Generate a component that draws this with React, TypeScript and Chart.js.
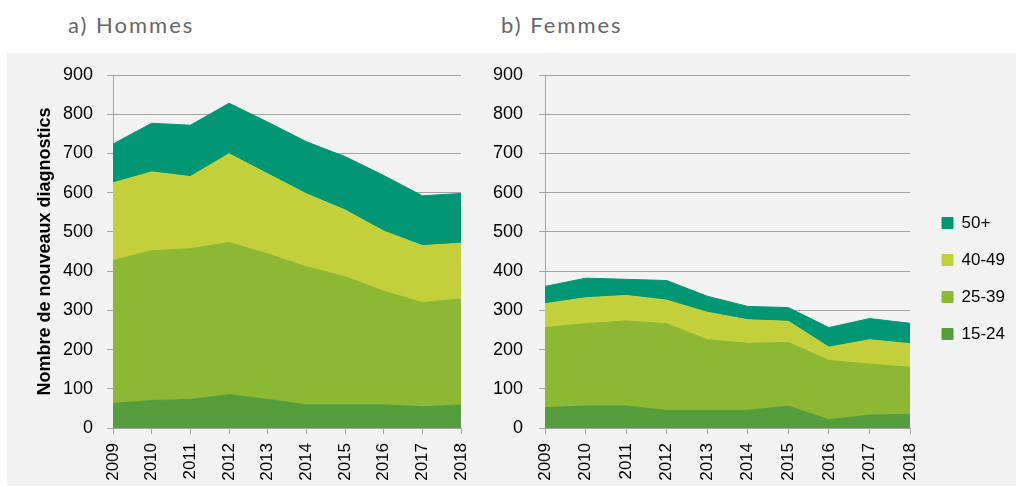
import React, { useEffect, useRef } from "react";
import { Chart, registerables } from "chart.js";

Chart.register(...registerables);

const years = ["2009", "2010", "2011", "2012", "2013", "2014", "2015", "2016", "2017", "2018"];
const seriesLabels = ["15-24", "25-39", "40-49", "50+"];
const seriesColors = ["#559D3A", "#8CB833", "#C3D03B", "#029774"];

// Hommes
const men1524 = [63, 70, 73, 85, 73, 59, 59, 59, 54, 59];
const men2539 = [364, 382, 384, 388, 371, 352, 327, 290, 266, 270];
const men4049 = [198, 201, 184, 226, 204, 186, 170, 153, 145, 142];
const men50p = [99, 124, 131, 129, 132, 133, 136, 142, 127, 127];

// Femmes
const women1524 = [52, 56, 56, 45, 45, 45, 56, 21, 33, 35];
const women2539 = [204, 210, 217, 221, 180, 171, 162, 151, 130, 120];
const women4049 = [61, 66, 65, 60, 70, 60, 54, 34, 62, 60];
const women50p = [44, 50, 41, 50, 41, 34, 35, 50, 54, 52];

const yTitle = "Nombre de nouveaux diagnostics";
const yMax = 900;
const yStep = 100;

const GRID = "#A3A3A3";
const FONT = "'Liberation Sans', Arial, sans-serif";

function buildDatasets(series: number[][]) {
  return series.map((values, i) => ({
    label: seriesLabels[i],
    data: values,
    backgroundColor: seriesColors[i],
    borderColor: seriesColors[i],
    borderWidth: 1,
    pointRadius: 0,
    pointHoverRadius: 0,
    tension: 0,
    fill: i === 0 ? "origin" : "-1",
  }));
}

const legendShift = {
  id: "legendShift",
  afterLayout(chart: any, _args: any, opts: any) {
    const lg = chart.legend;
    if (!lg || !opts || !opts.enabled) return;
    lg.left += opts.dx;
    lg.right += opts.dx;
    lg.top += opts.dy;
    lg.bottom += opts.dy;
  },
};

function buildOptions(cfg: { withTitle: boolean; withLegend: boolean; padding: any; tickPad: number; yWidth: number }) {
  return {
    animation: false,
    responsive: false,
    maintainAspectRatio: false,
    layout: { padding: cfg.padding },
    plugins: {
      legend: {
        display: cfg.withLegend,
        position: "right",
        reverse: true,
        labels: {
          boxWidth: 11,
          boxHeight: 11,
          padding: 20,
          color: "#000",
          font: { family: FONT, size: 17 },
        },
      },
      legendShift: { enabled: cfg.withLegend, dx: 12, dy: -2 },
      tooltip: { enabled: false },
    },
    scales: {
      x: {
        type: "category",
        offset: false,
        afterFit(scale: any) {
          scale.height = 58;
          scale.paddingLeft = 0;
          scale.paddingRight = 0;
        },
        grid: {
          drawOnChartArea: false,
          drawTicks: true,
          tickLength: 6,
          color: GRID,
        },
        border: { display: true, color: GRID, width: 1 },
        ticks: {
          minRotation: 90,
          maxRotation: 90,
          autoSkip: false,
          padding: 9,
          color: "#000",
          font: { family: FONT, size: 17 },
        },
      },
      y: {
        stacked: true,
        min: 0,
        max: yMax,
        afterFit(scale: any) {
          scale.width = cfg.yWidth;
          scale.paddingTop = 0;
          scale.paddingBottom = 0;
        },
        ticks: {
          stepSize: yStep,
          padding: cfg.tickPad,
          color: "#000",
          font: { family: FONT, size: 18 },
        },
        grid: {
          color: GRID,
          lineWidth: 1,
          tickLength: 6,
        },
        border: { display: true, color: GRID, width: 1 },
        title: {
          display: cfg.withTitle,
          text: yTitle,
          color: "#000",
          font: { family: FONT, size: 18, weight: "bold" },
          padding: { top: 27, bottom: 4 },
        },
      },
    },
  };
}

function AreaChart(props: {
  series: number[][];
  withTitle: boolean;
  withLegend: boolean;
  width: number;
  height: number;
  padding: any;
  tickPad: number;
  yWidth: number;
}) {
  const ref = useRef<HTMLCanvasElement | null>(null);
  useEffect(() => {
    if (!ref.current) return;
    const chart = new Chart(ref.current, {
      type: "line",
      data: { labels: years, datasets: buildDatasets(props.series) as any },
      options: buildOptions(props) as any,
      plugins: [legendShift],
    });
    return () => chart.destroy();
  }, []);
  return (
    <canvas
      ref={ref}
      width={props.width}
      height={props.height}
      style={{ width: props.width, height: props.height, display: "block" }}
    />
  );
}

const titleStyle: React.CSSProperties = {
  position: "absolute",
  top: 11,
  fontFamily: "Lato, 'Open Sans', sans-serif",
  fontWeight: 400,
  fontSize: 22,
  letterSpacing: 2,
  color: "#666666",
  whiteSpace: "nowrap",
};

export default function App() {
  return (
    <div style={{ position: "fixed", left: 0, top: 0, width: 1016, height: 487, background: "#fff", overflow: "hidden" }}>
      <div style={{ ...titleStyle, left: 68 }}>a) Hommes</div>
      <div style={{ ...titleStyle, left: 501 }}>b) Femmes</div>
      <div style={{ position: "absolute", left: 7, top: 53, width: 1009, height: 433, background: "#F2F2F2" }} />
      <div style={{ position: "absolute", left: 7, top: 53 }}>
        <AreaChart
          series={[men1524, men2539, men4049, men50p]}
          withTitle={true}
          withLegend={false}
          width={483}
          height={433}
          padding={{ left: 0, top: 22, right: 29, bottom: 0 }}
          tickPad={14}
          yWidth={106}
        />
      </div>
      <div style={{ position: "absolute", left: 490, top: 53 }}>
        <AreaChart
          series={[women1524, women2539, women4049, women50p]}
          withTitle={false}
          withLegend={true}
          width={526}
          height={433}
          padding={{ left: 0, top: 22, right: 13, bottom: 0 }}
          tickPad={16}
          yWidth={55}
        />
      </div>
    </div>
  );
}
